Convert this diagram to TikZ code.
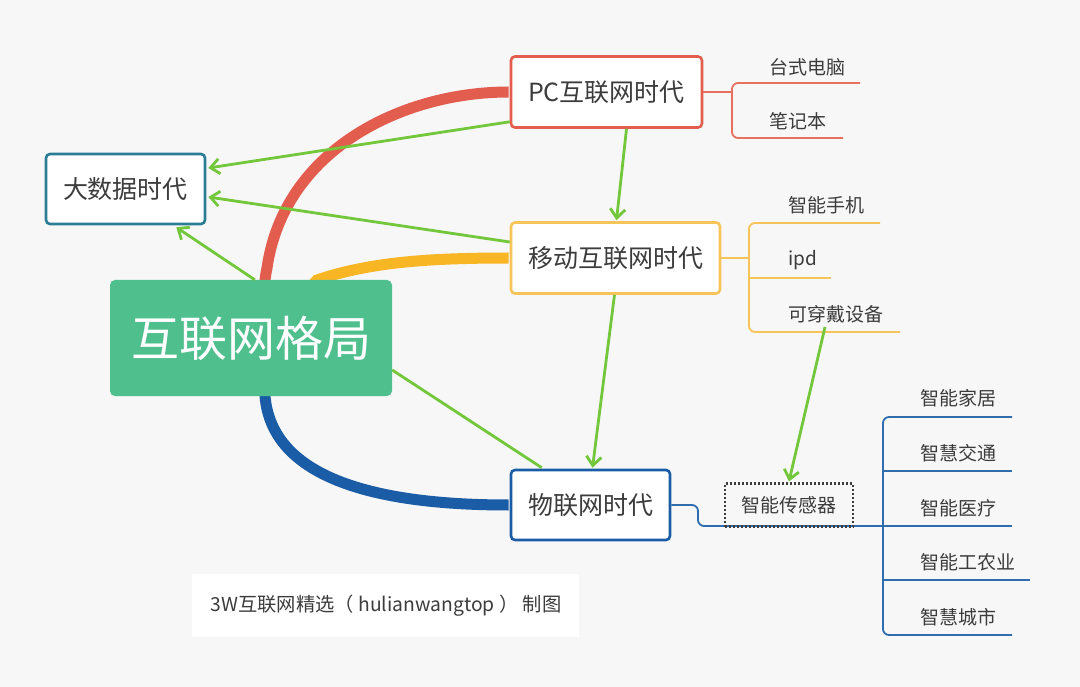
\documentclass[tikz,border=0pt]{standalone}
\usepackage{fontspec}
\setmainfont{Noto Sans CJK SC}
\usetikzlibrary{arrows.meta,calc}
\definecolor{bg}{HTML}{F7F7F7}
\definecolor{txt}{HTML}{3C3C3C}
\definecolor{cred}{HTML}{E35D4F}
\definecolor{cora}{HTML}{F9B624}
\definecolor{cblue}{HTML}{1A5DA6}
\definecolor{cteal}{HTML}{2B7D95}
\definecolor{cmain}{HTML}{4FC08D}
\definecolor{carr}{HTML}{73C73B}
\definecolor{lred}{HTML}{E8705F}
\definecolor{lora}{HTML}{F7C45A}
\definecolor{lblue}{HTML}{2F6DAE}
\tikzset{
  box/.style={draw, line width=2.6pt, rounded corners=4pt, fill=white, text=txt,
    font=\fontsize{25}{30}\selectfont, inner sep=0pt},
  leaf/.style={anchor=west, text=txt, font=\fontsize{19}{23}\selectfont, inner sep=0pt},
  garr/.style={draw=carr, line width=2.8pt, -{Straight Barb[length=9pt,width=15pt,line width=2.8pt]}},
  gline/.style={draw=carr, line width=2.8pt},
  thick curve/.style={line width=11pt},
  brl/.style={line width=1.8pt},
}
\begin{document}
\begin{tikzpicture}[x=1pt,y=-1pt]
\fill[bg] (0,0) rectangle (1080,687);
\useasboundingbox (0,0) rectangle (1080,687);

% footer
\fill[white] (192,574) rectangle (579,637);
\node[text=txt, font=\fontsize{19.3}{23}\selectfont, inner sep=0pt] (foot) at (386,606) {3W互联网精选（ hulianwangtop ） 制图};

% node positions
\coordinate (pcC) at (606.5,92);
\coordinate (bdC) at (125.5,189);
\coordinate (mbC) at (615.5,258);
\coordinate (mnC) at (251,338);
\coordinate (iotC) at (590.5,505);

% branch lines
\draw[lred, brl, rounded corners=6pt] (860,83) -- (732,83) -- (732,138) -- (843,138);
\draw[lora, brl, rounded corners=6pt] (880,223) -- (749,223) -- (749,332) -- (900,332);
\draw[lora, brl] (749,278) -- (831,278);
\draw[lblue, brl, rounded corners=6pt] (1012,417) -- (883,417) -- (883,635) -- (1012,635);
\draw[lblue, brl] (883,471) -- (1012,471);
\draw[lblue, brl] (883,526) -- (1012,526);
\draw[lblue, brl] (883,580) -- (1030,580);

% main nodes
\node[box, draw=cred, minimum width=191pt, minimum height=71pt] (pc) at (pcC) {PC互联网时代};
\node[box, draw=cteal, minimum width=159pt, minimum height=70pt] (bd) at (bdC) {大数据时代};
\node[box, draw=lora, minimum width=209pt, minimum height=71pt] (mb) at (mbC) {移动互联网时代};
\node[box, draw=cblue, minimum width=159pt, minimum height=70pt] (iot) at (iotC) {物联网时代};

% connectors from nodes to brackets
\draw[lred, brl] (pc.east) -- (732,92);
\draw[lora, brl] (mb.east) -- (749,258);
\draw[lblue, brl, rounded corners=6pt] (iot.east) -- (698,505) -- (698,526) -- (883,526);

% leaves
\node[leaf] (l1) at (769,67) {台式电脑};
\node[leaf] (l2) at (769,121) {笔记本};
\node[leaf] (m1) at (788,205) {智能手机};
\node[leaf] (m2) at (788,260) {ipd};
\node[leaf] (m3) at (788,314) {可穿戴设备};
\node[leaf] (i1) at (920,398) {智能家居};
\node[leaf] (i2) at (920,453) {智慧交通};
\node[leaf] (i3) at (920,508) {智能医疗};
\node[leaf] (i4) at (920,562) {智能工农业};
\node[leaf] (i5) at (920,617) {智慧城市};

% sensor
\node[draw=txt, dash pattern=on 2pt off 2pt, line width=2.2pt, text=txt, font=\fontsize{19}{23}\selectfont,
  minimum width=128pt, minimum height=43pt, inner sep=0pt] (sen) at (789,505) {智能传感器};

% thick curves (start hidden under main node)
\draw[cred, thick curve] ($(mnC)+(11,-20)$) .. controls ($(mnC)+(14,-60)$) .. ($(mnC)+(16,-70)$)
   .. controls (284,150) and (402,92) .. ($(pc.west)+(-1,0)$);
\draw[cora, thick curve] ($(mnC)+(40,-30)$) -- ($(mnC)+(66,-58)$) .. controls (370,262) and (430,258) .. ($(mb.west)+(-1,0)$);
\draw[cblue, thick curve] ($(mnC)+(14,20)$) -- ($(mnC)+(14,58)$) .. controls (272,480) and (380,505) .. ($(iot.west)+(-1,0)$);

% main node
\node[fill=cmain, rounded corners=5pt, minimum width=282pt, minimum height=116pt, text=white,
  font=\fontsize{48}{56}\selectfont, inner sep=0pt] (mn) at (mnC) {互联网格局};

% green arrows
\draw[garr] ($(pc.south west)+(0,-7)$) -- ($(bd.east)+(2,-21)$);
\draw[garr] ($(mb.west)+(0,-16)$) -- ($(bd.east)+(2,8)$);
\draw[garr] ($(mn.north west)+(145,0)$) -- ($(bd.south east)+(-30,2)$);
\draw[garr] ($(pc.south)+(20,0)$) -- ($(mb.north)+(1,-1)$);
\draw[garr] ($(mb.south)+(-1,0)$) -- ($(iot.north)+(2,-1)$);
\draw[gline] ($(mn.east)+(0,32)$) -- ($(iot.north west)+(32,-1)$);
\draw[garr] ($(m3.south west)+(37,4)$) -- ($(sen.north)+(0,-1)$);
\end{tikzpicture}
\end{document}
